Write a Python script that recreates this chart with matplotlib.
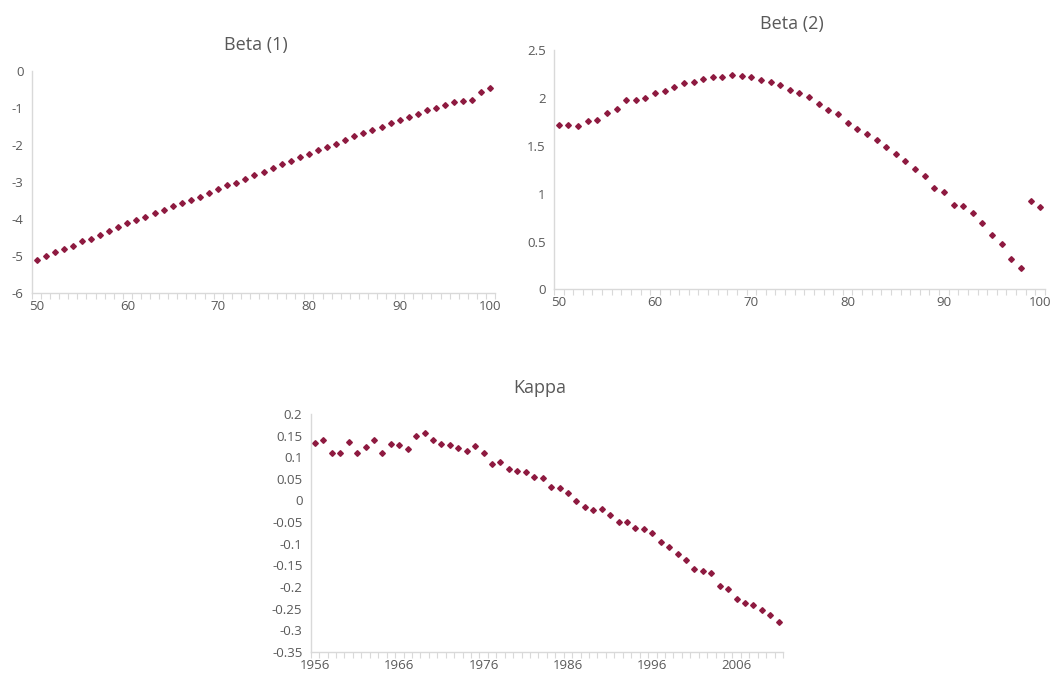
import numpy as np
import matplotlib
matplotlib.use('Agg')
import matplotlib.pyplot as plt
from matplotlib.ticker import FixedLocator

ages = list(range(50, 101))
years = list(range(1956, 2012))

beta1 = [-5.10, -5.01, -4.90, -4.82, -4.73, -4.61, -4.53, -4.44, -4.32, -4.23,
         -4.12, -4.03, -3.94, -3.85, -3.76, -3.65, -3.57, -3.48, -3.40, -3.31,
         -3.19, -3.10, -3.02, -2.93, -2.81, -2.73, -2.63, -2.52, -2.43, -2.34,
         -2.26, -2.14, -2.06, -1.98, -1.86, -1.77, -1.68, -1.60, -1.51, -1.42,
         -1.33, -1.25, -1.16, -1.07, -1.02, -0.93, -0.86, -0.81, -0.79, -0.58,
         -0.47]

beta2 = [1.72, 1.72, 1.71, 1.76, 1.77, 1.84, 1.89, 1.98, 1.98, 2.00,
         2.05, 2.07, 2.12, 2.16, 2.17, 2.20, 2.22, 2.22, 2.24, 2.23,
         2.22, 2.19, 2.17, 2.14, 2.08, 2.05, 2.01, 1.94, 1.88, 1.83,
         1.74, 1.68, 1.62, 1.56, 1.49, 1.42, 1.34, 1.26, 1.19, 1.06,
         1.02, 0.88, 0.87, 0.80, 0.69, 0.57, 0.47, 0.32, 0.22, 0.92,
         0.86]

kappa = [0.132, 0.141, 0.111, 0.109, 0.135, 0.111, 0.124, 0.140, 0.111, 0.130,
         0.128, 0.120, 0.149, 0.157, 0.140, 0.130, 0.128, 0.122, 0.114, 0.125,
         0.109, 0.085, 0.090, 0.072, 0.069, 0.067, 0.054, 0.051, 0.032, 0.030,
         0.017, -0.002, -0.015, -0.021, -0.020, -0.034, -0.050, -0.050, -0.063, -0.066,
         -0.076, -0.095, -0.108, -0.124, -0.137, -0.158, -0.164, -0.169, -0.198, -0.206,
         -0.227, -0.237, -0.243, -0.254, -0.264, -0.282]

MARKER = '#8E1A40'
GREY = '#595959'
SPINE = '#D9D9D9'

plt.rcParams['font.family'] = ['Open Sans', 'DejaVu Sans']


def fmt(v):
    s = f'{v:.2f}'.rstrip('0').rstrip('.')
    return '0' if s in ('-0', '0') else s


def draw_panel(ax, x, y, title, xticks, ylim, yticks):
    ax.plot(x, y, marker='D', linestyle='none', markersize=2.9, color=MARKER)
    ax.set_xlim(x[0] - 0.5, x[-1] + 0.5)
    ax.set_ylim(*ylim)
    ax.set_xticks(xticks)
    ax.set_xticklabels([str(t) for t in xticks])
    # ticks sit between categories, like the excel category axis
    ax.xaxis.set_minor_locator(FixedLocator(np.arange(x[0] - 0.5, x[-1] + 1, 1.0)))
    ax.tick_params(axis='x', which='major', length=0, pad=5, labelsize=9.5, labelcolor=GREY)
    ax.tick_params(axis='x', which='minor', length=4, width=0.8, color=SPINE)
    ax.set_yticks(yticks)
    ax.set_yticklabels([fmt(v) for v in yticks])
    ax.tick_params(axis='y', length=0, pad=6, labelsize=9.5, labelcolor=GREY)
    for side in ['top', 'right']:
        ax.spines[side].set_visible(False)
    for side in ['left', 'bottom']:
        ax.spines[side].set_color(SPINE)
        ax.spines[side].set_linewidth(1.0)
    # title is centred on the whole chart box, a bit left of the plot area
    ax.set_title(title, fontsize=13, color=GREY, pad=15, x=0.484)


fig = plt.figure(figsize=(10.53, 6.75), dpi=100)

ax1 = fig.add_axes([0.0304, 0.5659, 0.4397, 0.3296])
draw_panel(ax1, ages, beta1, 'Beta (1)', [50, 60, 70, 80, 90, 100], (-6, 0),
           [0, -1, -2, -3, -4, -5, -6])

ax2 = fig.add_axes([0.5261, 0.5714, 0.4663, 0.3541])
draw_panel(ax2, ages, beta2, 'Beta (2)', [50, 60, 70, 80, 90, 100], (0, 2.5),
           [0, 0.5, 1, 1.5, 2, 2.5])

ax3 = fig.add_axes([0.2951, 0.0345, 0.4485, 0.3521])
draw_panel(ax3, years, kappa, 'Kappa', [1956, 1966, 1976, 1986, 1996, 2006], (-0.35, 0.2),
           list(np.round(np.arange(-0.35, 0.2001, 0.05), 2)))

fig.savefig('out.png', dpi=100)
